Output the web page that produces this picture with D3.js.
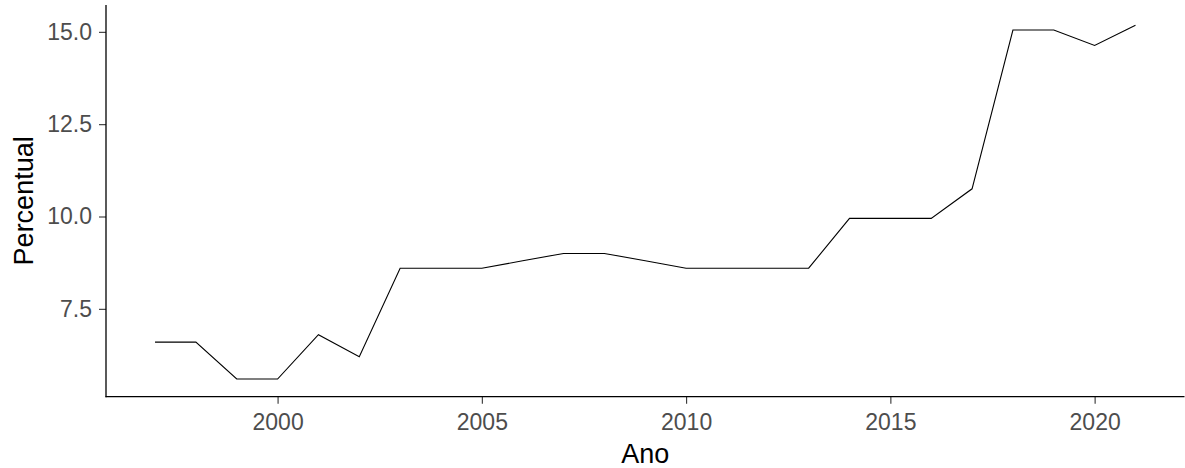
<!DOCTYPE html>
<html>
<head>
<meta charset="utf-8">
<script src="https://cdn.jsdelivr.net/npm/d3@7"></script>
<style>
  html, body { margin: 0; padding: 0; background: #fff; }
  svg { display: block; }
  text { font-family: "Liberation Sans", Arial, sans-serif; }
</style>
</head>
<body>
<svg id="chart" width="1185" height="468"></svg>
<script>
const years = [1997,1998,1999,2000,2001,2002,2003,2004,2005,2006,2007,2008,2009,2010,2011,2012,2013,2014,2015,2016,2017,2018,2019,2020,2021];
const values = [6.6,6.6,5.6,5.6,6.8,6.2,8.6,8.6,8.6,8.8,9.0,9.0,8.8,8.6,8.6,8.6,8.6,9.95,9.95,9.95,10.75,15.05,15.05,14.63,15.18];
const xTicks = [2000,2005,2010,2015,2020];
const yTicks = [7.5,10.0,12.5,15.0];
const xTitle = "Ano";
const yTitle = "Percentual";

const svg = d3.select("#chart");
const pLeft = 106, pRight = 1184.5, pTop = 7.5, pBottom = 396.7, axisTop = 5;

const xMin = d3.min(years), xMax = d3.max(years);
const xPad = (xMax - xMin) * 0.05;
const yMin = d3.min(values), yMax = d3.max(values);
const yPad = (yMax - yMin) * 0.05;

const x = d3.scaleLinear().domain([xMin - xPad, xMax + xPad]).range([pLeft, pRight]);
const y = d3.scaleLinear().domain([yMin - yPad, yMax + yPad]).range([pBottom, pTop]);

// line
const line = d3.line().x((d, i) => x(years[i])).y(d => y(d));
svg.append("path")
  .datum(values)
  .attr("d", line)
  .attr("fill", "none")
  .attr("stroke", "#000")
  .attr("stroke-width", 1.1);

// axes
const xAxis = svg.append("g")
  .attr("transform", `translate(0,${pBottom})`)
  .call(d3.axisBottom(x).tickValues(xTicks).tickFormat(d3.format("d")).tickSize(7).tickPadding(9.5));
const yAxis = svg.append("g")
  .attr("transform", `translate(${pLeft},0)`)
  .call(d3.axisLeft(y).tickValues(yTicks).tickFormat(d3.format(".1f")).tickSize(7).tickPadding(7));

[xAxis, yAxis].forEach(g => {
  g.select(".domain").remove();
  g.selectAll(".tick line").attr("stroke", "#333333").attr("stroke-width", 1.1);
  g.selectAll(".tick text")
    .attr("fill", "#4D4D4D")
    .style("font-size", "23px")
    .style("font-family", "'Liberation Sans', Arial, sans-serif");
});

// axis lines (theme_classic)
svg.append("line").attr("x1", pLeft).attr("x2", pLeft).attr("y1", axisTop).attr("y2", pBottom + 0.5)
  .attr("stroke", "#000").attr("stroke-width", 1.3);
svg.append("line").attr("x1", pLeft - 0.5).attr("x2", pRight).attr("y1", pBottom).attr("y2", pBottom)
  .attr("stroke", "#000").attr("stroke-width", 1.3);

// titles
svg.append("text")
  .attr("x", (pLeft + pRight) / 2)
  .attr("y", 462.5)
  .attr("text-anchor", "middle")
  .attr("fill", "#000")
  .style("font-size", "27px")
  .text(xTitle);

svg.append("text")
  .attr("transform", `translate(33,${(axisTop + pBottom) / 2}) rotate(-90)`)
  .attr("text-anchor", "middle")
  .attr("fill", "#000")
  .style("font-size", "27px")
  .text(yTitle);
</script>
</body>
</html>
